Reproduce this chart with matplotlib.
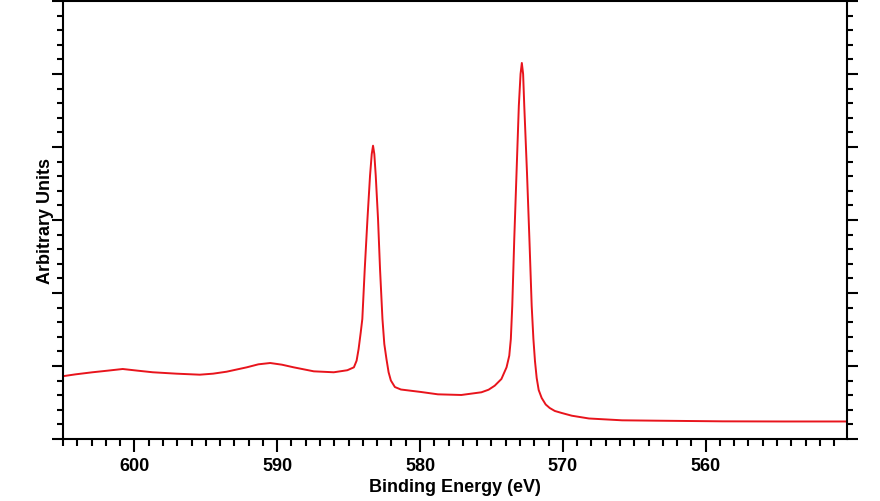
import matplotlib
matplotlib.use("Agg")
import matplotlib.pyplot as plt
from matplotlib.ticker import MultipleLocator, NullFormatter

# Binding energy (eV) and intensity (arbitrary units)
energy = [605.05, 604.11, 602.94, 601.88, 600.82, 599.77, 598.71, 597.06, 595.42, 594.49,
          593.54, 592.13, 591.32, 590.49, 589.67, 588.85, 587.44, 586.04, 585.09, 584.63,
          584.44, 584.30, 584.15, 584.04, 583.87, 583.68, 583.50, 583.38, 583.29, 583.20,
          583.10, 582.94, 582.80, 582.63, 582.50, 582.35, 582.20, 582.04, 581.76, 581.34,
          579.93, 578.75, 577.11, 575.70, 575.20, 574.77, 574.30, 573.94, 573.75, 573.64,
          573.54, 573.40, 573.24, 573.08, 572.96, 572.87, 572.78, 572.70, 572.51, 572.34,
          572.18, 572.06, 571.95, 571.83, 571.69, 571.48, 571.20, 570.92, 570.56, 570.07,
          569.37, 568.17, 565.85, 563.52, 558.80, 554.58, 549.86]
intensity = [0.859, 0.886, 0.914, 0.936, 0.959, 0.936, 0.914, 0.895, 0.881, 0.895,
             0.922, 0.982, 1.023, 1.041, 1.018, 0.982, 0.927, 0.914, 0.942, 0.982,
             1.073, 1.233, 1.462, 1.644, 2.329, 3.014, 3.607, 3.904, 4.018, 3.904,
             3.607, 3.014, 2.329, 1.644, 1.301, 1.096, 0.914, 0.801, 0.712, 0.678,
             0.644, 0.612, 0.603, 0.640, 0.675, 0.730, 0.822, 0.982, 1.141, 1.370,
             1.826, 2.740, 3.653, 4.566, 5.000, 5.151, 5.000, 4.566, 3.653, 2.740,
             1.826, 1.370, 1.068, 0.836, 0.671, 0.562, 0.473, 0.425, 0.384, 0.356,
             0.319, 0.281, 0.256, 0.251, 0.242, 0.240, 0.240]

x_label = "Binding Energy (eV)"
y_label = "Arbitrary Units"

plt.rcParams['font.family'] = ['Liberation Sans', 'DejaVu Sans']

fig = plt.figure(figsize=(8.8, 5.02), dpi=100)
ax = fig.add_axes([63/880, 62/502, 784/880, 438/502])

ax.plot(energy, intensity, color='#e8141c', lw=1.4, solid_joinstyle='round')

ax.set_xlim(605.0, 550.1)
ax.set_ylim(0, 6)

ax.xaxis.set_major_locator(MultipleLocator(10))
ax.xaxis.set_minor_locator(MultipleLocator(1))
ax.yaxis.set_major_locator(MultipleLocator(1))
ax.yaxis.set_minor_locator(MultipleLocator(0.2))
ax.yaxis.set_major_formatter(NullFormatter())

ax.tick_params(axis='x', which='major', direction='out', length=9, width=1.5,
               labelsize=13, pad=4, top=False)
ax.tick_params(axis='x', which='minor', direction='out', length=5, width=1.5, top=False)
ax.tick_params(axis='y', which='major', direction='out', length=8, width=1.5,
               left=True, right=True)
ax.tick_params(axis='y', which='minor', direction='out', length=4, width=1.5,
               left=True, right=True)
for lab in ax.get_xticklabels():
    lab.set_fontweight('bold')

for sp in ax.spines.values():
    sp.set_linewidth(1.5)

ax.set_xlabel(x_label, fontsize=13, fontweight='bold')
ax.set_ylabel(y_label, fontsize=13, fontweight='bold')
ax.xaxis.set_label_coords(0.5, -0.088)
ax.yaxis.set_label_coords(-0.011, 0.5)

fig.savefig("out.png", dpi=100)
